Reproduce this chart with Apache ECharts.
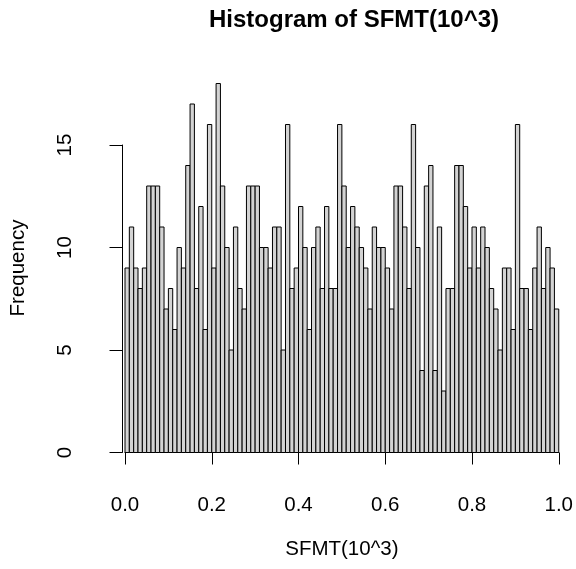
<!DOCTYPE html>
<html>
<head>
<meta charset="utf-8">
<script src="https://cdn.jsdelivr.net/npm/echarts@6/dist/echarts.min.js"></script>
<style>html,body{margin:0;padding:0;background:#fff}#c{width:576px;height:569px}</style>
</head>
<body>
<div id="c"></div>
<script>
// Histogram of SFMT(10^3): 100 bins of width 0.01 on [0, 1]
const breaks = Array.from({length: 101}, (_, i) => i / 100);
const counts = [
  9, 11, 9, 8, 9, 13, 13, 13, 11, 7, 8, 6, 10,
  9, 14, 17, 8, 12, 6, 16, 9, 18, 13, 10, 5,
  11, 8, 7, 13, 13, 13, 10, 10, 9, 11, 11, 5,
  16, 8, 9, 12, 10, 6, 10, 11, 8, 12, 8, 8, 16,
  13, 10, 12, 11, 10, 9, 7, 11, 10, 10, 9, 7,
  13, 13, 11, 8, 16, 10, 4, 13, 14, 4, 11, 3, 8,
  8, 14, 14, 12, 9, 11, 9, 11, 10, 8, 7, 5,
  9, 9, 6, 16, 8, 8, 6, 9, 11, 8, 10, 9, 7
];
const xTicks = [0, 0.2, 0.4, 0.6, 0.8, 1.0];
const yTicks = [0, 5, 10, 15];
const titleText = 'Histogram of SFMT(10^3)';
const xLabel = 'SFMT(10^3)';
const yLabel = 'Frequency';

const data = counts.map((c, i) => [breaks[i], breaks[i + 1], c]);
const FONT = 'Liberation Sans, Arial, Helvetica, sans-serif';
const FS = 20.5;

const chart = echarts.init(document.getElementById('c'), null, {renderer: 'canvas'});
chart.setOption({
  animation: false,
  backgroundColor: '#fff',
  title: {
    text: titleText,
    left: 349, top: 3, textAlign: 'center',
    textStyle: {fontFamily: FONT, fontSize: 24, fontWeight: 'bold', color: '#000'}
  },
  grid: [
    {left: 122, width: 439, top: 83.5, height: 369, containLabel: false},
    {left: 122, width: 439, top: 145, height: 307.5, containLabel: false}
  ],
  xAxis: [
    {
      gridIndex: 0, type: 'value', min: 0, max: 1, interval: 0.2,
      position: 'bottom', offset: 14.5,
      axisLine: {show: true, lineStyle: {color: '#000', width: 1}},
      axisTick: {show: true, length: 12, lineStyle: {color: '#000', width: 1}},
      axisLabel: {
        show: true, margin: 28, color: '#000', fontFamily: FONT, fontSize: FS,
        formatter: v => xTicks.some(t => Math.abs(t - v) < 1e-9) ? v.toFixed(1) : ''
      },
      splitLine: {show: false},
      name: xLabel, nameLocation: 'middle', nameGap: 72,
      nameTextStyle: {fontFamily: FONT, fontSize: FS, color: '#000'}
    },
    {gridIndex: 1, type: 'value', min: 0, max: 1, show: false}
  ],
  yAxis: [
    {
      gridIndex: 0, type: 'value', min: 0, max: 18,
      axisLine: {show: false}, axisTick: {show: false}, axisLabel: {show: false},
      splitLine: {show: false},
      name: yLabel, nameLocation: 'middle', nameGap: 96, nameRotate: 90,
      nameTextStyle: {fontFamily: FONT, fontSize: FS, color: '#000'}
    },
    {
      gridIndex: 1, type: 'value', min: 0, max: 15, interval: 5,
      position: 'left', offset: 17.6,
      axisLine: {show: true, lineStyle: {color: '#000', width: 1}},
      axisTick: {show: true, length: 12.5, lineStyle: {color: '#000', width: 1}},
      axisLabel: {
        show: true, rotate: 90, margin: 29, align: 'center', verticalAlign: 'bottom',
        color: '#000', fontFamily: FONT, fontSize: FS,
        formatter: v => yTicks.indexOf(v) >= 0 ? String(v) : ''
      },
      splitLine: {show: false}
    }
  ],
  series: [{
    type: 'custom',
    xAxisIndex: 0, yAxisIndex: 0,
    data: data,
    encode: {x: [0, 1], y: 2},
    renderItem: function (params, api) {
      const p0 = api.coord([api.value(0), api.value(2)]);
      const p1 = api.coord([api.value(1), 0]);
      return {
        type: 'rect',
        shape: {x: p0[0], y: p0[1], width: p1[0] - p0[0], height: p1[1] - p0[1]},
        style: {fill: '#d3d3d3', stroke: '#000', lineWidth: 1}
      };
    }
  }]
});
</script>
</body>
</html>
